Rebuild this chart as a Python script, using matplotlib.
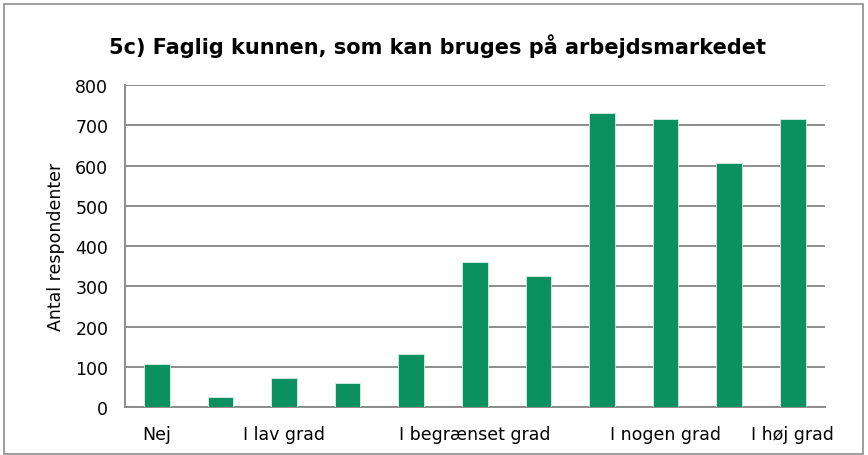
import numpy as np
import matplotlib.pyplot as plt
from matplotlib.patches import Rectangle

# data
values = [107, 24, 72, 61, 132, 361, 325, 731, 717, 606, 715]
tick_labels = ["Nej", "", "I lav grad", "", "", "I begrænset grad", "",
               "", "I nogen grad", "", "I høj grad"]
title = "5c) Faglig kunnen, som kan bruges på arbejdsmarkedet"
ylabel = "Antal respondenter"
yticks = [0, 100, 200, 300, 400, 500, 600, 700, 800]

BAR_COLOR = "#0B9062"
GRID_COLOR = "#8C8C8C"

plt.rcParams.update({
    "font.family": "DejaVu Sans",
    "font.size": 12.5,
})

fig = plt.figure(figsize=(8.68, 4.56), dpi=100)
ax = fig.add_axes([0.144, 0.105, 0.806, 0.706])

x = np.arange(len(values))
ax.bar(x, values, width=0.4, color=BAR_COLOR, edgecolor="#d8efe4",
       linewidth=0.6, zorder=3)

ax.set_xlim(-0.5, len(values) - 0.5)
ax.set_ylim(0, 800)
ax.set_yticks(yticks)
ax.set_xticks(x)
ax.set_xticklabels(tick_labels)
ax.tick_params(axis="both", length=0, colors="black", labelsize=12.5)
ax.tick_params(axis="x", pad=13)
ax.tick_params(axis="y", pad=12)

ax.grid(axis="y", color=GRID_COLOR, linewidth=1.4, zorder=0)
for s in ["top", "right"]:
    ax.spines[s].set_visible(False)
for s in ["left", "bottom"]:
    ax.spines[s].set_color(GRID_COLOR)
    ax.spines[s].set_linewidth(1.4)

ax.set_ylabel(ylabel, fontsize=12.5, labelpad=7)
fig.text(0.504, 0.898, title, ha="center", va="center",
         fontsize=15, fontweight="bold")

# outer chart border
fig.patches.append(Rectangle((4 / 868, 1 / 456), 859 / 868, 450 / 456,
                             transform=fig.transFigure, fill=False,
                             edgecolor="#8C8C8C", linewidth=1.2))

fig.savefig("out.png", dpi=100)
